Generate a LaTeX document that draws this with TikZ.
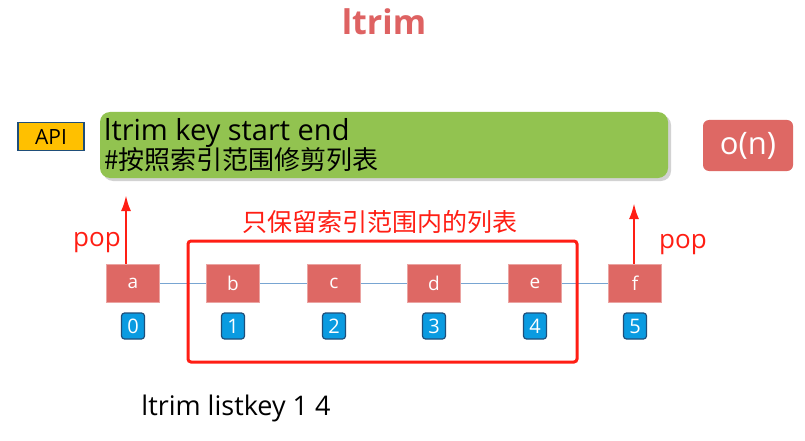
\documentclass[tikz,border=0pt]{standalone}
\usepackage{fontspec}
\setmainfont{Open Sans}
\newfontfamily\cjk{Noto Sans CJK SC}
\usetikzlibrary{arrows.meta, shadows}
\definecolor{titlered}{RGB}{222,98,98}
\definecolor{popred}{RGB}{255,30,20}
\definecolor{cellred}{RGB}{222,104,100}
\definecolor{apiorange}{RGB}{255,192,0}
\definecolor{apiblue}{RGB}{31,78,121}
\definecolor{cmdgreen}{RGB}{146,195,80}
\definecolor{idxblue}{RGB}{10,155,225}
\definecolor{linkblue}{RGB}{120,165,210}
\tikzset{>=Latex,
  cell/.style={fill=cellred, draw=cellred!60!white, minimum width=53pt, minimum height=38pt, inner sep=0pt, text=white, font=\fontsize{19}{19}\selectfont},
  idx/.style={fill=idxblue, draw=apiblue, line width=1.2pt, rounded corners=3pt, minimum width=23pt, minimum height=26pt, inner sep=0pt, text=white, font=\fontsize{20}{20}\selectfont},
  poparrow/.style={->, popred, line width=2.5pt, >={Latex[length=16pt,width=10pt]}},
  redtxt/.style={text=popred, font=\fontsize{26}{26}\selectfont}}
\begin{document}
\begin{tikzpicture}[x=1pt, y=-1pt]
  \useasboundingbox[fill=white] (0,0) rectangle (805,441);
  \node[text=titlered, font=\fontsize{34}{34}\selectfont\bfseries] (title) at (384,22) {ltrim};
  % command box
  \node[fill=apiorange, draw=apiblue, line width=1.5pt, minimum width=66pt, minimum height=28pt, inner sep=0pt, font=\fontsize{21}{21}\selectfont] (api) at (51,136.5) {API};
  \node[fill=cmdgreen, rounded corners=10pt, minimum width=568pt, minimum height=66pt, drop shadow={opacity=0.35, shadow xshift=3pt, shadow yshift=-3pt}] (cmd) at (384,145) {};
  \node[anchor=west, align=left, inner sep=0pt, font=\fontsize{29}{29}\selectfont] (cmdtxt) at (104,145) {ltrim key start end\\{\cjk\fontsize{26}{29}\selectfont\#按照索引范围修剪列表}};
  \node[fill=cellred, rounded corners=6pt, minimum width=90pt, minimum height=51pt, text=white, font=\fontsize{31}{31}\selectfont] (cost) at (748,145.5) {o(n)};
  % list
  \draw[linkblue, line width=1pt] (133,283) -- (635,283);
  \foreach \v/\x [count=\i from 0] in {a/133, b/233, c/334, d/434, e/535, f/635}{
    \node[cell] (c\i) at (\x,283) {\v};
    \node[idx] (i\i) at (\x,326) {\i};
  }
  % kept range
  \draw[popred, line width=3pt, rounded corners=3pt] (188,241) rectangle (577,362);
  \node[redtxt, font=\cjk\fontsize{25}{25}\selectfont] (keep) at (380,222) {只保留索引范围内的列表};
  \draw[poparrow] (c0.north -| 126,0) -- (126,195);
  \draw[poparrow] (c5.north -| 634,0) -- (634,203);
  \node[redtxt] (popl) at (97,243) {pop};
  \node[redtxt] (popr) at (683,245) {pop};
  \node[font=\fontsize{27}{27}\selectfont] (ex) at (236,408) {ltrim listkey 1 4};
\end{tikzpicture}
\end{document}
